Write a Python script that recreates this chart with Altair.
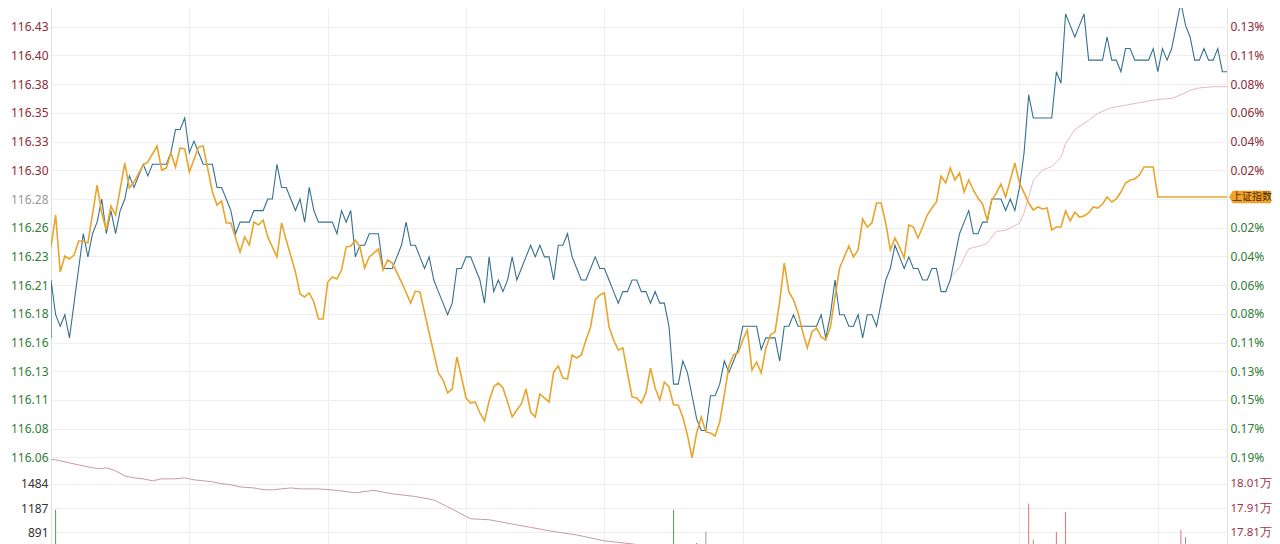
import altair as alt
import pandas as pd

# ---------------- data ----------------
# minutes since 9:30 (futures session: 255 trading minutes, grid every 30 min)
blue_open = 116.16
blue_p = [
    116.21, 116.18, 116.17, 116.18, 116.16, 116.19, 116.22, 116.25, 116.23, 116.25,
    116.26, 116.28, 116.25, 116.27, 116.25, 116.27, 116.28, 116.30, 116.29, 116.30,
    116.31, 116.30, 116.31, 116.31, 116.31, 116.31, 116.32, 116.34, 116.34, 116.35,
    116.32, 116.33, 116.32, 116.31, 116.31, 116.31, 116.29, 116.29, 116.28, 116.27,
    116.25, 116.26, 116.26, 116.26, 116.27, 116.27, 116.27, 116.28, 116.28, 116.31,
    116.29, 116.29, 116.28, 116.27, 116.28, 116.26, 116.29, 116.27, 116.26, 116.26,
    116.26, 116.26, 116.25, 116.27, 116.26, 116.27, 116.23, 116.24, 116.24, 116.25,
    116.25, 116.25, 116.22, 116.22, 116.22, 116.23, 116.24, 116.26, 116.24, 116.24,
    116.23, 116.22, 116.23, 116.21, 116.20, 116.19, 116.18, 116.19, 116.22, 116.22,
    116.23, 116.23, 116.22, 116.21, 116.19, 116.23, 116.20, 116.21, 116.20, 116.21,
    116.23, 116.21, 116.22, 116.23, 116.24, 116.23, 116.24, 116.23, 116.23, 116.21,
    116.24, 116.24, 116.25, 116.23, 116.22, 116.21, 116.21, 116.22, 116.23, 116.22,
    116.22, 116.21, 116.20, 116.19, 116.20, 116.20, 116.21, 116.21, 116.20, 116.20,
    116.19, 116.20, 116.19, 116.19, 116.17, 116.12, 116.12, 116.14, 116.13, 116.11,
    116.09, 116.08, 116.08, 116.11, 116.11, 116.12, 116.14, 116.13, 116.14, 116.15,
    116.17, 116.17, 116.17, 116.17, 116.15, 116.16, 116.16, 116.16, 116.14, 116.17,
    116.17, 116.18, 116.17, 116.17, 116.17, 116.17, 116.17, 116.18, 116.16, 116.18,
    116.21, 116.18, 116.18, 116.17, 116.17, 116.18, 116.16, 116.18, 116.18, 116.17,
    116.19, 116.21, 116.22, 116.24, 116.23, 116.22, 116.23, 116.22, 116.22, 116.21,
    116.21, 116.22, 116.22, 116.20, 116.20, 116.21, 116.23, 116.25, 116.26, 116.27,
    116.25, 116.25, 116.26, 116.26, 116.28, 116.28, 116.28, 116.27, 116.28, 116.27,
    116.29, 116.32, 116.37, 116.35, 116.35, 116.35, 116.35, 116.35, 116.39, 116.38,
    116.44, 116.43, 116.42, 116.43, 116.44, 116.40, 116.40, 116.40, 116.40, 116.42,
    116.40, 116.40, 116.39, 116.41, 116.41, 116.40, 116.40, 116.40, 116.40, 116.41,
    116.39, 116.41, 116.40, 116.41, 116.43, 116.45, 116.43, 116.42, 116.40, 116.40,
    116.41, 116.40, 116.40, 116.41, 116.39, 116.39,
]

# 上证指数, % change on the right axis
yellow_t = [
    0, 1, 2, 3, 4, 5, 6, 7, 8, 10, 11, 12, 13, 14, 16, 17, 18, 20, 21, 23,
    24, 25, 26, 27, 28, 29, 30, 32, 33, 35, 36, 37, 38, 39, 41, 42, 43, 44, 45, 46,
    47, 49, 50, 51, 53, 54, 55, 56, 57, 58, 59, 60, 61, 62, 63, 64, 65, 66, 67, 68,
    69, 71, 72, 73, 74, 76, 78, 79, 80, 82, 84, 85, 86, 87, 88, 89, 90, 91, 92, 93,
    94, 95, 96, 97, 98, 99, 100, 101, 102, 103, 104, 105, 106, 107, 108, 109, 110, 111, 112, 113,
    114, 115, 116, 117, 118, 119, 120, 121, 122, 123, 124, 125, 126, 127, 128, 129, 130, 131, 132, 133,
    134, 135, 136, 137, 138, 139, 140, 141, 142, 143, 144, 145, 146, 147, 148, 149, 150, 151, 152, 153,
    154, 155, 156, 157, 158, 159, 160, 161, 162, 163, 164, 165, 166, 167, 168, 169, 170, 171, 172, 173,
    174, 175, 176, 177, 178, 179, 180, 181, 182, 183, 184, 185, 186, 187, 188, 189, 190, 191, 192, 193,
    194, 195, 196, 197, 198, 199, 200, 201, 202, 203, 204, 205, 206, 207, 208, 209, 210, 211, 212, 213,
    214, 215, 216, 217, 218, 219, 220, 221, 222, 223, 224, 225, 226, 227, 228, 229, 230, 231, 232, 233,
    234, 235, 236, 237, 239, 240, 255,
]
yellow_pct = [
    -0.0357, -0.0119, -0.0542, -0.0424, -0.0446, -0.0416, -0.0312, -0.0312, -0.0327, 0.0104,
    -0.0104, -0.0230, -0.0052, -0.0119, 0.0267, 0.0082, 0.0126, 0.0253, 0.0275, 0.0394,
    0.0215, 0.0230, 0.0342, 0.0238, 0.0379, 0.0372, 0.0201, 0.0386, 0.0394, 0.0052,
    -0.0045, -0.0015, -0.0178, -0.0178, -0.0394, -0.0282, -0.0342, -0.0171, -0.0193, -0.0156,
    -0.0282, -0.0431, -0.0178, -0.0305, -0.0542, -0.0706, -0.0728, -0.0698, -0.0765, -0.0892,
    -0.0892, -0.0617, -0.0580, -0.0594, -0.0528, -0.0357, -0.0349, -0.0305, -0.0357, -0.0513,
    -0.0431, -0.0372, -0.0528, -0.0453, -0.0476, -0.0617, -0.0773, -0.0684, -0.0691, -0.0996,
    -0.1293, -0.1345, -0.1441, -0.1412, -0.1174, -0.1323, -0.1479, -0.1516, -0.1508, -0.1590,
    -0.1649, -0.1501, -0.1397, -0.1367, -0.1404, -0.1508, -0.1620, -0.1568, -0.1523, -0.1412,
    -0.1583, -0.1620, -0.1449, -0.1479, -0.1508, -0.1285, -0.1241, -0.1330, -0.1337, -0.1159,
    -0.1181, -0.1159, -0.1048, -0.0951, -0.0750, -0.0713, -0.0698, -0.0951, -0.1048, -0.1122,
    -0.1107, -0.1293, -0.1471, -0.1479, -0.1516, -0.1441, -0.1256, -0.1404, -0.1493, -0.1360,
    -0.1397, -0.1531, -0.1531, -0.1620, -0.1753, -0.1924, -0.1739, -0.1620, -0.1731, -0.1739,
    -0.1761, -0.1657, -0.1456, -0.1241, -0.1159, -0.1144, -0.1048, -0.0973, -0.1271, -0.1211,
    -0.1293, -0.1107, -0.1010, -0.0988, -0.0765, -0.0476, -0.0691, -0.0750, -0.0847, -0.0988,
    -0.1107, -0.0988, -0.0958, -0.1025, -0.1048, -0.0951, -0.0728, -0.0513, -0.0431, -0.0349,
    -0.0431, -0.0379, -0.0149, -0.0208, -0.0178, -0.0030, -0.0030, -0.0178, -0.0379, -0.0290,
    -0.0357, -0.0438, -0.0193, -0.0208, -0.0290, -0.0208, -0.0119, -0.0067, -0.0022, 0.0171,
    0.0119, 0.0230, 0.0141, 0.0193, 0.0052, 0.0141, 0.0067, 0.0007, -0.0037, -0.0156,
    -0.0007, 0.0045, 0.0111, 0.0015, 0.0141, 0.0267, 0.0119, 0.0045, -0.0030, -0.0082,
    -0.0059, -0.0074, -0.0067, -0.0230, -0.0208, -0.0208, -0.0089, -0.0163, -0.0097, -0.0134,
    -0.0126, -0.0104, -0.0059, -0.0067, -0.0037, 0.0015, -0.0022, 0.0000, 0.0052, 0.0119,
    0.0141, 0.0149, 0.0178, 0.0238, 0.0238, 0.0015, 0.0015,
]

# average price line (visible part)
avg_t = [195, 197, 199, 202, 203, 205, 207, 210, 211, 213, 215, 217, 219, 220,
         222, 225, 227, 230, 233, 237, 240, 243, 245, 247, 249, 252, 255]
avg_p = [116.212, 116.221, 116.237, 116.240, 116.242, 116.252, 116.253, 116.259,
         116.268, 116.296, 116.305, 116.308, 116.316, 116.328, 116.340, 116.348,
         116.354, 116.359, 116.361, 116.364, 116.366, 116.367, 116.370, 116.374,
         116.376, 116.377, 116.377]

# open interest (持仓量), right axis of the lower panel
oi_t = [0, 1, 4, 6, 9, 11, 12, 14, 16, 18, 20, 22, 24, 27, 29, 31, 33, 35, 37, 39,
        41, 44, 45, 47, 48, 50, 52, 54, 56, 58, 62, 66, 70, 74, 79, 83, 86, 91, 95,
        99, 104, 108, 114, 120, 128]
oi_v = [181090, 181070, 180940, 180860, 180740, 180700, 180740, 180620, 180410,
        180330, 180290, 180210, 180290, 180290, 180330, 180250, 180210, 180170,
        180090, 180050, 179960, 179920, 179880, 179840, 179840, 179880, 179920,
        179880, 179880, 179880, 179820, 179720, 179820, 179680, 179570, 179430,
        179150, 178660, 178620, 178480, 178310, 178170, 178000, 177760, 177590]

# visible volume bars
vol_t = [1, 135, 140, 142, 212, 213, 218, 220, 245, 246]
vol_v = [1167, 1167, 763, 900, 1241, 805, 897, 1139, 921, 836]
vol_dir = ["跌", "跌", "跌", "平", "涨", "平", "涨", "涨", "涨", "平"]

# tick labels
left_labels = ["116.06", "116.08", "116.11", "116.13", "116.16", "116.18", "116.21",
               "116.23", "116.26", "116.28", "116.30", "116.33", "116.35", "116.38",
               "116.40", "116.43"]
right_labels = ["0.19%", "0.17%", "0.15%", "0.13%", "0.11%", "0.08%", "0.06%", "0.04%",
                "0.02%", "", "0.02%", "0.04%", "0.06%", "0.08%", "0.11%", "0.13%"]
vol_ticks = [1484, 1187, 891]
oi_ticks = [180100, 179100, 178100]
index_name = "上证指数"

# ---------------- scales / layout constants ----------------
W, H1, H2 = 1176, 450, 147
P_BASE, P_STEP = 116.28, 0.0248
K_LO, K_HI = -9.024, 6.655
PCT_STEP = P_STEP / P_BASE * 100
T_MAX = 255

RED, GREEN, GREY = "#8e2a35", "#2f7d34", "#9a9a9a"
GRIDC = "#eeeeee"

x_enc = alt.X("t:Q", scale=alt.Scale(domain=[0, T_MAX], nice=False, zero=False),
              axis=alt.Axis(values=list(range(0, 241, 30)), labels=False, ticks=False,
                            domain=False, grid=True, gridColor=GRIDC, title=None))

price_scale = alt.Scale(domain=[P_BASE + K_LO * P_STEP, P_BASE + K_HI * P_STEP],
                        nice=False, zero=False)
pct_scale = alt.Scale(domain=[K_LO * PCT_STEP, K_HI * PCT_STEP], nice=False, zero=False)

left_expr = str(left_labels) + "[round((datum.value - %r) / %r) + 9]" % (P_BASE, P_STEP)
right_expr = str(right_labels) + "[round(datum.value / %r) + 9]" % PCT_STEP

left_axis = alt.Axis(
    values=[P_BASE + k * P_STEP for k in range(-9, 7)], labelExpr=left_expr,
    orient="left", ticks=False, grid=True, gridColor=GRIDC, domain=True,
    domainColor="#e2e2e2", labelPadding=3, title=None,
    labelColor={"condition": [{"test": "datum.value > %r" % (P_BASE + 0.005), "value": RED},
                              {"test": "datum.value > %r" % (P_BASE - 0.005), "value": GREY}],
                "value": GREEN})
right_axis = alt.Axis(
    values=[k * PCT_STEP for k in range(-9, 7)], labelExpr=right_expr,
    orient="right", ticks=False, grid=False, domain=True, domainColor="#e2e2e2",
    labelPadding=3, title=None,
    labelColor={"condition": [{"test": "datum.value > 0.001", "value": RED}],
                "value": GREEN})

blue_df = pd.DataFrame({"t": [0] + list(range(len(blue_p))), "p": [blue_open] + blue_p})
blue_df["i"] = range(len(blue_df))
yellow_df = pd.DataFrame({"t": yellow_t, "pct": yellow_pct})
avg_df = pd.DataFrame({"t": avg_t, "p": avg_p})
badge_df = pd.DataFrame({"pct": [yellow_pct[-1]], "name": [index_name]})

avg_line = alt.Chart(avg_df).mark_line(color="#e6b9c1", strokeWidth=1, clip=True).encode(
    x=x_enc, y=alt.Y("p:Q", scale=price_scale, axis=None))
blue_line = alt.Chart(blue_df).mark_line(color="#34718f", strokeWidth=1.1, clip=True).encode(
    x=x_enc, y=alt.Y("p:Q", scale=price_scale, axis=left_axis), order="i:Q")
yellow_line = alt.Chart(yellow_df).mark_line(color="#e8a52c", strokeWidth=1.6, clip=True).encode(
    x=x_enc, y=alt.Y("pct:Q", scale=pct_scale, axis=right_axis))
badge_shape = alt.Chart(badge_df).mark_point(
    shape="M -1 0 L -0.82 -0.3 L 1 -0.3 L 1 0.3 L -0.82 0.3 Z",
    filled=True, color="#f2a327", opacity=1, size=1764).encode(
    x=alt.value(W + 23), y=alt.Y("pct:Q", scale=pct_scale, axis=None))
badge_text = alt.Chart(badge_df).mark_text(
    font="Noto Sans CJK SC", fontSize=10, color="#4a2c06", align="center",
    baseline="middle").encode(
    x=alt.value(W + 25), y=alt.Y("pct:Q", scale=pct_scale, axis=None), text="name:N")

top = alt.layer(avg_line, blue_line, yellow_line, badge_shape, badge_text).resolve_scale(
    y="independent").properties(width=W, height=H1)

# ---------------- lower panel ----------------
vol_df = pd.DataFrame({"t": vol_t, "v": vol_v, "d": vol_dir})
oi_df = pd.DataFrame({"t": oi_t, "oi": oi_v})

vol_bars = alt.Chart(vol_df).mark_rule(strokeWidth=1, clip=True).encode(
    x=x_enc,
    y=alt.Y("v:Q", scale=alt.Scale(domain=[0, 1781], nice=False),
            axis=alt.Axis(values=vol_ticks, format="d", orient="left", ticks=False,
                          grid=True, gridColor=GRIDC, domain=True, domainColor="#e2e2e2",
                          labelPadding=3, labelColor="#333333", title=None)),
    y2=alt.datum(0),
    color=alt.Color("d:N", scale=alt.Scale(domain=["涨", "跌", "平"],
                                           range=["#e07070", "#4f9a55", "#9a9a9a"]),
                    legend=None))
oi_line = alt.Chart(oi_df).mark_line(color="#c99aa5", strokeWidth=1, clip=True).encode(
    x=x_enc,
    y=alt.Y("oi:Q", scale=alt.Scale(domain=[175100, 181100], nice=False, zero=False),
            axis=alt.Axis(values=oi_ticks, orient="right", ticks=False, grid=False,
                          domain=True, domainColor="#e2e2e2", labelPadding=3,
                          labelColor="#a3314d", labelFontSize=11.5, title=None,
                          labelExpr="format(datum.value / 10000, '.2f') + '万'")))

bottom = alt.layer(vol_bars, oi_line).resolve_scale(y="independent").properties(
    width=W, height=H2)

chart = alt.vconcat(top, bottom, spacing=1, bounds="flush").properties(
    padding={"left": 2, "top": 0, "right": 0, "bottom": 0}
).configure_view(stroke=None).configure_axis(
    labelFont="Noto Sans", labelFontSize=12
)

chart.save("out.html", embed_options={"renderer": "svg", "actions": False})
